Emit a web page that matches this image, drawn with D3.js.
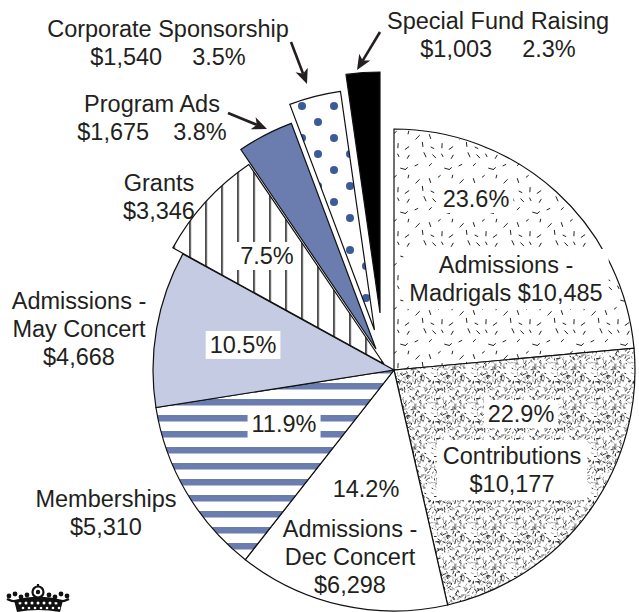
<!DOCTYPE html>
<html>
<head>
<meta charset="utf-8">
<script src="https://cdn.jsdelivr.net/npm/d3@7"></script>
<style>
  body { margin: 0; background: #fff; }
  svg { display: block; font-family: "Liberation Sans", Arial, Helvetica, sans-serif; }
  .lbl { font-size: 23.5px; fill: #231f20; }
</style>
</head>
<body>
<div id="chart"></div>
<script>
// revenue sources, clockwise from 12 o'clock
const categories = ["Admissions - Madrigals", "Contributions", "Admissions - Dec Concert", "Memberships",
    "Admissions - May Concert", "Grants", "Program Ads", "Corporate Sponsorship", "Special Fund Raising"];
const amounts = [10485, 10177, 6298, 5310, 4668, 3346, 1675, 1540, 1003];

// how each name is broken over lines in the labels
const nameLines = [
    ["Admissions -", "Madrigals"],
    ["Contributions"],
    ["Admissions -", "Dec Concert"],
    ["Memberships"],
    ["Admissions -", "May Concert"],
    ["Grants"],
    ["Program Ads"],
    ["Corporate Sponsorship"],
    ["Special Fund Raising"]
];

// page layout
const W = 639, H = 612;
const cx = 394, cy = 370, radius = 241;
const lineH = 28;

// per slice: explode offset, fill, label placement
const layout = [
    {off: [0, 0], fill: "url(#sparse)", pct: [476, 207], pctBox: true, name: [506, 273], nameBox: true, mode: "amountInline"},
    {off: [0, 0], fill: "url(#dense)", pct: [521, 422], pctBox: true, name: [512, 464], nameBox: true},
    {off: [0, 0], fill: "#fff", pct: [366, 497], name: [350, 537]},
    {off: [0, 0], fill: "url(#stripes)", pct: [284, 432], pctBox: true, name: [106, 507]},
    {off: [0, 0], fill: "#c5cbe2", pct: [243, 353], pctBox: true, name: [79, 309]},
    {off: [-10, -6], fill: "url(#vlines)", pct: [267, 264], pctBox: true, name: [159, 191]},
    {off: [-18, -21], fill: "#6b7cae", name: [152, 112], mode: "pctInline", gap: 24, arrow: [[228, 113], [267, 129]]},
    {off: [-19.5, -40], fill: "url(#dots)", name: [168, 37], mode: "pctInline", gap: 30, arrow: [[291, 42], [307, 84]]},
    {off: [-14, -57], fill: "#000", name: [498, 29], mode: "pctInline", gap: 30, arrow: [[380, 32], [357, 70]]}
];

const fmtMoney = d3.format("$,");
const fmtPct = d3.format(".1%");
const total = d3.sum(amounts);

const svg = d3.select("#chart").append("svg")
    .attr("width", W)
    .attr("height", H);

const defs = svg.append("defs");

// seeded noise, only for the speckle textures
function noise(seed) {
    let s = seed;
    return () => {
        s = (s * 1664525 + 1013904223) % 4294967296;
        return s / 4294967296;
    };
}

// sparse dashes (Madrigals)
let rnd = noise(11);
const sparse = defs.append("pattern").attr("id", "sparse")
    .attr("patternUnits", "userSpaceOnUse").attr("width", 44).attr("height", 44);
sparse.append("rect").attr("width", 44).attr("height", 44).attr("fill", "#fff");
// jittered grid so the dashes spread out evenly
for (let gx = 0; gx < 4; gx++) {
    for (let gy = 0; gy < 4; gy++) {
        let x = gx * 11 + 2 + rnd() * 6, y = gy * 11 + 2 + rnd() * 6;
        let a = rnd() * Math.PI, l = 3.5 + rnd() * 2.5;
        sparse.append("line")
            .attr("x1", x).attr("y1", y)
            .attr("x2", x + Math.cos(a) * l).attr("y2", y + Math.sin(a) * l)
            .attr("stroke", "#222").attr("stroke-width", 1);
    }
}

// dense speckle (Contributions)
rnd = noise(5);
const dense = defs.append("pattern").attr("id", "dense")
    .attr("patternUnits", "userSpaceOnUse").attr("width", 40).attr("height", 40);
dense.append("rect").attr("width", 40).attr("height", 40).attr("fill", "#fff");
for (let i = 0; i < 200; i++) {
    let x = rnd() * 40, y = rnd() * 40, a = rnd() * Math.PI * 2, l = 1.2 + rnd() * 3;
    let dark = rnd() < 0.45;
    dense.append("line")
        .attr("x1", x).attr("y1", y)
        .attr("x2", x + Math.cos(a) * l).attr("y2", y + Math.sin(a) * l)
        .attr("stroke", dark ? "#111" : "#8a8a8a")
        .attr("stroke-width", dark ? 0.9 : 0.8);
}

// slice origin (for lining the tiles up with the reference)
const ox = i => cx + layout[i].off[0];
const oy = i => cy + layout[i].off[1];

// horizontal stripes (Memberships)
const stripes = defs.append("pattern").attr("id", "stripes")
    .attr("patternUnits", "userSpaceOnUse").attr("width", 16).attr("height", 16)
    .attr("x", 0).attr("y", 383 - oy(3));
stripes.append("rect").attr("width", 16).attr("height", 16).attr("fill", "#fff");
stripes.append("rect").attr("width", 16).attr("height", 6.5).attr("fill", "#6b7cae");

// vertical lines (Grants)
const vlines = defs.append("pattern").attr("id", "vlines")
    .attr("patternUnits", "userSpaceOnUse").attr("width", 16).attr("height", 16)
    .attr("x", 190 - 0.75 - ox(5)).attr("y", 0);
vlines.append("rect").attr("width", 16).attr("height", 16).attr("fill", "#fff");
vlines.append("rect").attr("width", 1.5).attr("height", 16).attr("fill", "#111");

// blue dots (Corporate Sponsorship)
const dots = defs.append("pattern").attr("id", "dots")
    .attr("patternUnits", "userSpaceOnUse").attr("width", 32).attr("height", 32)
    .attr("x", 302 - 8 - ox(7)).attr("y", 106 - 8 - oy(7));
dots.append("rect").attr("width", 32).attr("height", 32).attr("fill", "#fff");
dots.append("circle").attr("cx", 8).attr("cy", 8).attr("r", 4).attr("fill", "#3b5a9b");
dots.append("circle").attr("cx", 24).attr("cy", 24).attr("r", 4).attr("fill", "#3b5a9b");

// pie
const pie = d3.pie().sort(null).value(d => d);
const arc = d3.arc().innerRadius(0).outerRadius(radius);
const arcs = pie(amounts);

svg.append("g")
    .attr("class", "slices")
    .selectAll("path")
    .data(arcs)
    .join("path")
    .attr("transform", (d, i) => `translate(${ox(i)},${oy(i)})`)
    .attr("d", arc)
    .attr("fill", (d, i) => layout[i].fill)
    .attr("stroke", "#111")
    .attr("stroke-width", 1.2)
    .attr("stroke-linejoin", "miter");

// labels
const boxLayer = svg.append("g").attr("class", "boxes");
const textLayer = svg.append("g").attr("class", "labels");

function addBox(node, px, py) {
    let b = node.getBBox();
    boxLayer.append("rect")
        .attr("x", b.x - px).attr("y", b.y - py)
        .attr("width", b.width + 2 * px).attr("height", b.height + 2 * py)
        .attr("fill", "#fff");
}

amounts.forEach((v, i) => {
    let L = layout[i];
    let money = fmtMoney(v);
    let pct = fmtPct(v / total);

    if (L.pct) {
        let t = textLayer.append("text")
            .attr("class", "lbl")
            .attr("text-anchor", "middle")
            .attr("x", L.pct[0]).attr("y", L.pct[1])
            .text(pct);
        if (L.pctBox) addBox(t.node(), 4, 1);
    }

    let lines = nameLines[i].slice();
    if (L.mode === "amountInline") lines[lines.length - 1] += " " + money;
    else if (L.mode !== "pctInline") lines.push(money);

    let t = textLayer.append("text")
        .attr("class", "lbl")
        .attr("text-anchor", "middle")
        .attr("x", L.name[0]).attr("y", L.name[1]);
    lines.forEach((s, k) => {
        t.append("tspan").attr("x", L.name[0]).attr("dy", k === 0 ? 0 : lineH).text(s);
    });
    if (L.mode === "pctInline") {
        t.append("tspan").attr("x", L.name[0]).attr("dy", lineH).text(money);
        t.append("tspan").attr("dx", L.gap).text(pct);
    }
    if (L.nameBox) addBox(t.node(), 6, 3);

    // leader arrows for the small slices
    if (L.arrow) {
        let [p0, p1] = L.arrow;
        let ang = Math.atan2(p1[1] - p0[1], p1[0] - p0[0]);
        let head = 15, half = 6.5, back = 11;
        let cos = Math.cos(ang), sin = Math.sin(ang);
        textLayer.append("line")
            .attr("x1", p0[0]).attr("y1", p0[1])
            .attr("x2", p1[0] - cos * back).attr("y2", p1[1] - sin * back)
            .attr("stroke", "#231f20").attr("stroke-width", 2.6);
        let bx = p1[0] - cos * head, by = p1[1] - sin * head;
        let nx = p1[0] - cos * back, ny = p1[1] - sin * back;
        textLayer.append("path")
            .attr("d", `M${p1[0]},${p1[1]} L${bx - sin * half},${by + cos * half} L${nx},${ny} L${bx + sin * half},${by - cos * half} Z`)
            .attr("fill", "#231f20");
    }
});

// small crown logo, bottom left
const crown = svg.append("g").attr("class", "logo");
crown.append("path")
    .attr("d", "M14,600 Q38,593 63,600 L60,612 Q38,608 17,612 Z")
    .attr("fill", "#111");
[20, 26, 32, 38, 44, 50, 56].forEach(x => {
    crown.append("circle").attr("cx", x).attr("cy", 603).attr("r", 1.5).attr("fill", "#fff");
    crown.append("circle").attr("cx", x + 3).attr("cy", 608).attr("r", 1.3).attr("fill", "#fff");
});
crown.append("circle").attr("cx", 38).attr("cy", 592).attr("r", 5.5)
    .attr("fill", "#fff").attr("stroke", "#111").attr("stroke-width", 2.2);
crown.append("circle").attr("cx", 38).attr("cy", 592).attr("r", 2.2).attr("fill", "#111");
crown.append("path").attr("d", "M38,584 L38,587").attr("stroke", "#111").attr("stroke-width", 2.2);
[[9, 596], [15, 594], [21, 597], [27, 595], [49, 595], [55, 597], [61, 594], [67, 596]].forEach(p => {
    crown.append("circle").attr("cx", p[0]).attr("cy", p[1]).attr("r", 2.4).attr("fill", "#111");
});
crown.append("path").attr("d", "M7,599 Q16,604 28,599 M48,599 Q60,604 69,599")
    .attr("fill", "none").attr("stroke", "#111").attr("stroke-width", 2.2);
</script>
</body>
</html>
